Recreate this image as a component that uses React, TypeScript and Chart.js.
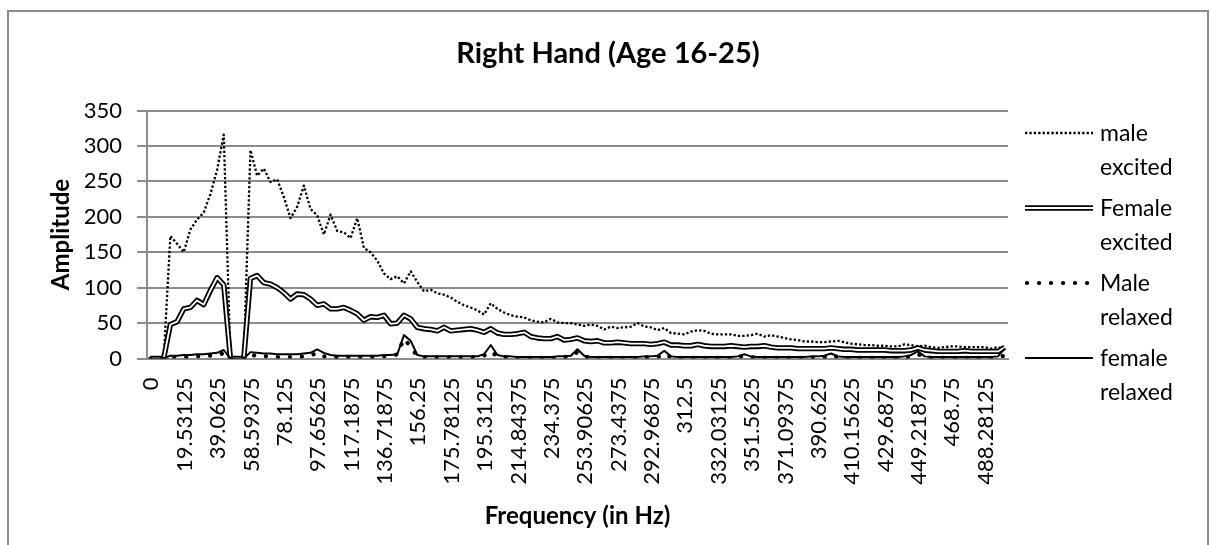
import React, { useEffect, useRef } from 'react';
import { Chart, registerables } from 'chart.js';

Chart.register(...registerables);

// ---------- data ----------
const FREQ_STEP = 3.90625; // Hz between FFT bins
const FREQUENCIES = Array.from({ length: 129 }, (_, i) => i * FREQ_STEP);
const LABEL_EVERY = 5;
const Y_MIN = 0;
const Y_MAX = 350;
const Y_STEP = 50;

const TITLE = 'Right Hand (Age 16-25)';
const X_TITLE = 'Frequency (in Hz)';
const Y_TITLE = 'Amplitude';
const SERIES_NAMES = ['male excited', 'Female excited', 'Male relaxed', 'female relaxed'];

const MALE_EXCITED = [
  0, 0, 0, 173, 162, 150, 182, 196, 206, 232,
  266, 316, 0, 0, 0, 294, 258, 268, 249, 253,
  228, 198, 214, 244, 211, 202, 175, 203, 180, 178,
  170, 198, 156, 150, 138, 120, 112, 116, 106, 123,
  108, 95, 97, 92, 90, 86, 80, 75, 72, 68,
  62, 78, 70, 65, 61, 59, 58, 54, 52, 51,
  56, 51, 50, 50, 48, 46, 48, 46, 41, 45,
  43, 44, 45, 50, 45, 44, 40, 43, 36, 35,
  34, 38, 40, 39, 35, 34, 34, 34, 32, 32,
  33, 35, 31, 33, 31, 29, 27, 26, 24, 24,
  23, 23, 24, 25, 23, 21, 20, 19, 19, 18,
  18, 17, 17, 20, 19, 17, 18, 16, 15, 16,
  17, 17, 16, 16, 16, 16, 14, 16, 13,
];

const FEMALE_EXCITED = [
  0, 0, 0, 48, 52, 70, 72, 82, 76, 96,
  114, 104, 0, 0, 0, 113, 117, 107, 105, 100,
  93, 84, 91, 90, 84, 75, 77, 70, 70, 72,
  68, 63, 54, 59, 58, 61, 49, 50, 61, 56,
  44, 42, 41, 39, 44, 39, 40, 41, 42, 40,
  37, 42, 36, 34, 34, 35, 37, 31, 29, 28,
  28, 31, 26, 27, 29, 25, 24, 25, 22, 22,
  23, 22, 21, 21, 21, 20, 21, 23, 19, 19,
  18, 18, 20, 18, 17, 17, 17, 18, 17, 16,
  17, 17, 18, 16, 15, 15, 15, 14, 14, 14,
  14, 14, 15, 14, 13, 13, 12, 12, 12, 12,
  12, 11, 11, 11, 12, 15, 12, 11, 10, 10,
  10, 10, 11, 10, 10, 10, 10, 10, 16,
];

const MALE_RELAXED = [
  0, 0, 0, 2, 2, 2, 2, 3, 3, 4,
  4, 8, 0, 0, 0, 6, 3, 3, 3, 2,
  2, 2, 2, 3, 4, 8, 3, 2, 2, 2,
  2, 2, 2, 2, 2, 3, 3, 6, 28, 17,
  3, 2, 2, 2, 2, 2, 2, 2, 2, 2,
  4, 10, 3, 2, 2, 1, 1, 1, 1, 1,
  1, 1, 2, 3, 9, 3, 1, 1, 1, 1,
  1, 1, 1, 1, 1, 2, 2, 7, 2, 1,
  1, 1, 1, 1, 1, 1, 1, 1, 2, 4,
  2, 1, 1, 1, 1, 1, 1, 1, 1, 1,
  1, 2, 5, 2, 1, 1, 1, 1, 1, 1,
  1, 1, 1, 1, 3, 6, 2, 1, 1, 1,
  1, 1, 1, 1, 1, 1, 1, 2, 4,
];

const FEMALE_RELAXED = [
  0, 0, 0, 4, 4, 5, 5, 6, 6, 7,
  8, 12, 0, 0, 0, 9, 8, 7, 7, 6,
  6, 6, 6, 7, 8, 13, 8, 5, 4, 4,
  4, 4, 4, 4, 4, 5, 5, 6, 33, 25,
  5, 3, 3, 3, 3, 3, 3, 3, 3, 3,
  6, 19, 5, 3, 3, 2, 2, 2, 2, 2,
  2, 3, 3, 4, 13, 4, 2, 2, 2, 2,
  2, 2, 2, 2, 3, 3, 4, 11, 3, 2,
  2, 2, 2, 2, 2, 2, 2, 2, 3, 6,
  3, 2, 2, 2, 2, 2, 2, 2, 2, 3,
  3, 4, 7, 3, 2, 2, 2, 2, 2, 2,
  2, 2, 2, 3, 5, 10, 3, 2, 2, 2,
  2, 2, 2, 2, 2, 2, 2, 3, 14,
];

// ---------- layout / style ----------
const W = 1210;
const H = 545;
const PLOT = { left: 147, right: 1008, top: 110.5, bottom: 358.5 };
const FONT = 'Lato';
const GRID = '#8c8c8c';
const LEG = { lineX0: 1025, lineX1: 1093, textX: 1100, firstY: 133, gapY: 75, lineGap: 34 };

const STYLE = {
  dotted: { width: 2.3, dash: [2.3, 2.1] },
  doubleOuter: 5.4,
  doubleInner: 1.8,
  bigDots: { width: 4.2, dash: [0.1, 11.9] },
  solid: 2,
};

function drawSample(ctx: CanvasRenderingContext2D, k: number, y: number) {
  const x0 = LEG.lineX0;
  const x1 = LEG.lineX1;
  ctx.save();
  ctx.strokeStyle = '#000';
  const line = () => {
    ctx.beginPath();
    ctx.moveTo(x0, y);
    ctx.lineTo(x1, y);
    ctx.stroke();
  };
  if (k === 0) {
    ctx.lineWidth = STYLE.dotted.width;
    ctx.setLineDash(STYLE.dotted.dash);
    line();
  } else if (k === 1) {
    ctx.lineWidth = STYLE.doubleOuter;
    line();
    ctx.strokeStyle = '#fff';
    ctx.lineWidth = STYLE.doubleInner;
    ctx.beginPath();
    ctx.moveTo(x0 - 1, y);
    ctx.lineTo(x1 + 1, y);
    ctx.stroke();
  } else if (k === 2) {
    ctx.lineWidth = STYLE.bigDots.width;
    ctx.lineCap = 'round';
    ctx.setLineDash(STYLE.bigDots.dash);
    ctx.beginPath();
    ctx.moveTo(x0 + 2, y);
    ctx.lineTo(x1, y);
    ctx.stroke();
  } else {
    ctx.lineWidth = STYLE.solid;
    line();
  }
  ctx.restore();
}

const overlayPlugin = {
  id: 'overlay',
  afterDraw(chart: any) {
    const ctx: CanvasRenderingContext2D = chart.ctx;
    ctx.save();
    ctx.fillStyle = '#000';
    ctx.font = `bold 29px ${FONT}`;
    ctx.textAlign = 'center';
    ctx.textBaseline = 'alphabetic';
    ctx.fillText(TITLE, 608, 63);

    SERIES_NAMES.forEach((name, k) => {
      const y = LEG.firstY + k * LEG.gapY;
      drawSample(ctx, k, y);
      ctx.fillStyle = '#000';
      ctx.font = `23px ${FONT}`;
      ctx.textAlign = 'left';
      ctx.textBaseline = 'alphabetic';
      name.split(' ').forEach((word, j) => {
        ctx.fillText(word, LEG.textX, y + 8.4 + j * LEG.lineGap);
      });
    });
    ctx.restore();
  },
};

export default function App() {
  const ref = useRef<HTMLCanvasElement>(null);

  useEffect(() => {
    const canvas = ref.current;
    if (!canvas) return;
    const base = {
      pointRadius: 0,
      pointHoverRadius: 0,
      tension: 0,
      fill: false,
      borderColor: '#000',
      borderJoinStyle: 'round',
    };
    const chart = new Chart(canvas, {
      type: 'line',
      data: {
        labels: FREQUENCIES.map(String),
        datasets: [
          { ...base, label: SERIES_NAMES[0], data: MALE_EXCITED, borderWidth: STYLE.dotted.width, borderDash: STYLE.dotted.dash, order: 5 },
          { ...base, label: SERIES_NAMES[1], data: FEMALE_EXCITED, borderWidth: STYLE.doubleOuter, order: 4 },
          { ...base, label: SERIES_NAMES[1] + ' inner', data: FEMALE_EXCITED, borderColor: '#fff', borderWidth: STYLE.doubleInner, order: 3 },
          { ...base, label: SERIES_NAMES[2], data: MALE_RELAXED, borderWidth: STYLE.bigDots.width, borderDash: STYLE.bigDots.dash, borderCapStyle: 'round', order: 2 },
          { ...base, label: SERIES_NAMES[3], data: FEMALE_RELAXED, borderWidth: STYLE.solid, order: 1 },
        ] as any,
      },
      options: {
        responsive: false,
        animation: false,
        devicePixelRatio: 1,
        events: [],
        layout: { padding: { top: PLOT.top, right: W - PLOT.right, bottom: 0, left: 0 } },
        plugins: {
          legend: { display: false },
          title: { display: false },
          tooltip: { enabled: false },
        },
        scales: {
          x: {
            type: 'category',
            offset: true,
            grid: { display: false, drawTicks: false },
            border: { display: true, color: GRID, width: 2 },
            ticks: {
              autoSkip: false,
              minRotation: 90,
              maxRotation: 90,
              padding: 19,
              labelOffset: 1,
              color: '#000',
              font: { family: FONT, size: 22 },
              callback: (_v: any, i: number) => (i % LABEL_EVERY === 0 ? String(FREQUENCIES[i]) : ''),
            },
            title: {
              display: true,
              text: X_TITLE,
              color: '#000',
              font: { family: FONT, size: 24, weight: 'bold' },
              padding: { top: 0, bottom: 14.6 },
            },
            afterFit: (s: any) => {
              s.height = H - PLOT.bottom;
            },
          },
          y: {
            min: Y_MIN,
            max: Y_MAX,
            ticks: {
              stepSize: Y_STEP,
              padding: 15,
              color: '#000',
              font: { family: FONT, size: 22 },
            },
            grid: { color: GRID, lineWidth: 2, drawTicks: true, tickLength: 10 },
            border: { display: true, color: GRID, width: 2 },
            title: {
              display: true,
              text: Y_TITLE,
              color: '#000',
              font: { family: FONT, size: 24, weight: 'bold' },
              padding: { top: 47.3, bottom: 0 },
            },
            afterFit: (s: any) => {
              s.width = PLOT.left;
            },
          },
        },
      } as any,
      plugins: [overlayPlugin],
    });
    return () => chart.destroy();
  }, []);

  return (
    <div style={{ position: 'fixed', left: 0, top: 0, width: W, height: H, overflow: 'hidden', background: '#fff' }}>
      <div
        style={{
          position: 'absolute',
          left: 7,
          top: 10,
          width: 1198,
          height: 600,
          border: `2px solid ${GRID}`,
        }}
      />
      <canvas ref={ref} width={W} height={H} style={{ position: 'absolute', left: 0, top: 0, width: W, height: H }} />
    </div>
  );
}
